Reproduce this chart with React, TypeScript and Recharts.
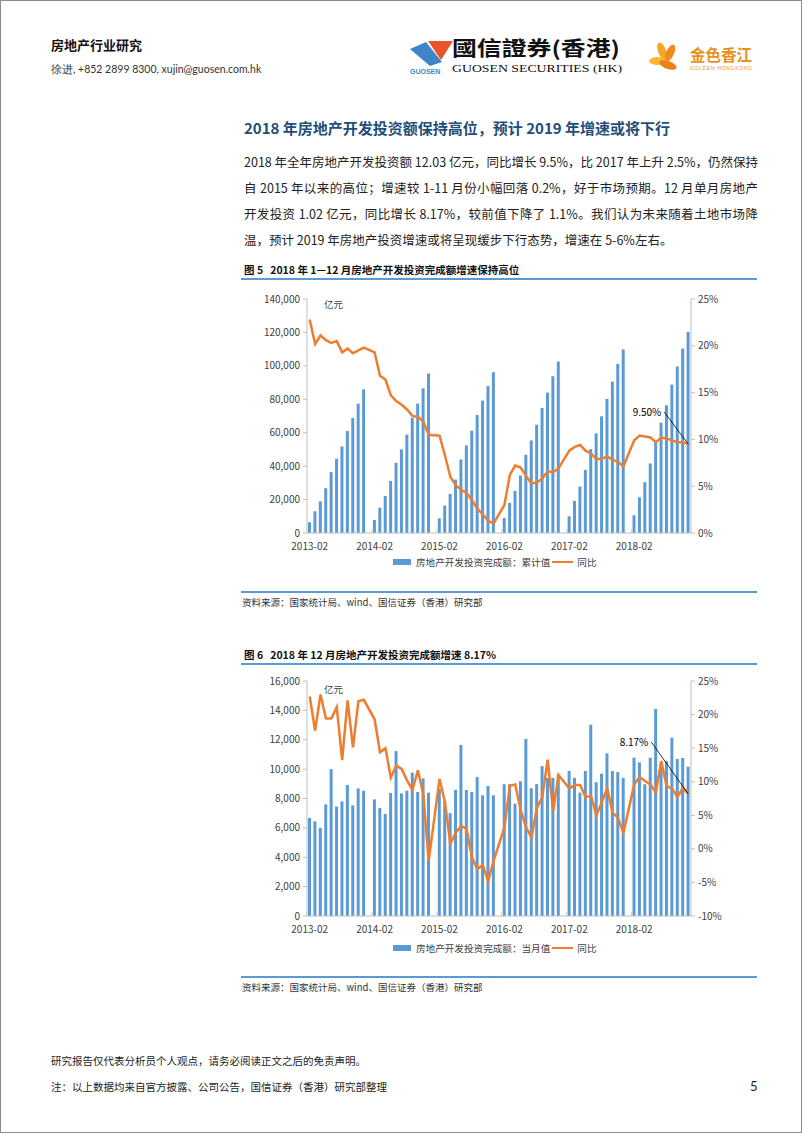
import React from "react";
import { Bar, ComposedChart, LabelList, Line, XAxis, YAxis } from "recharts";

const BLUE = "#5b9bd5";
const ORANGE = "#ed7d31";
const AXIS = "#bfbfbf";
const INK = "#404040";
const RULE = "#5b9bd5";
const FONT = '"Noto Sans CJK SC", "Noto Sans", sans-serif';

const YEARS = [2013, 2014, 2015, 2016, 2017, 2018];
const MONTHS = ["01", "02", "03", "04", "05", "06", "07", "08", "09", "10", "11", "12"];

// 图5: 房地产开发投资完成额 累计值 (亿元), Feb–Dec of each year
const CUM_2013 = [6400, 13000, 19000, 26800, 36400, 44400, 51800, 61000, 68800, 77400, 86000];
const CUM_2014 = [7800, 15200, 22200, 31200, 42000, 50000, 58800, 68800, 77400, 86600, 95400];
const CUM_2015 = [8800, 16400, 23400, 32000, 44000, 52400, 61200, 70600, 79200, 88000, 96200];
const CUM_2016 = [9000, 18000, 25200, 34400, 46800, 55400, 64800, 74800, 84000, 93800, 102600];
const CUM_2017 = [10000, 19200, 27800, 37800, 50200, 59600, 69800, 80200, 90600, 101200, 109800];
const CUM_2018 = [10600, 21400, 30400, 41600, 54400, 66000, 76400, 88800, 99600, 110400, 120300];

// 累计同比 (%)
const CUM_YOY_2013 = [22.8, 20.2, 21.1, 20.6, 20.3, 20.5, 19.3, 19.7, 19.2, 19.5, 19.8];
const CUM_YOY_2014 = [19.3, 16.8, 16.4, 14.7, 14.1, 13.7, 13.2, 12.5, 12.4, 11.9, 10.5];
const CUM_YOY_2015 = [10.4, 8.3, 6.0, 5.1, 4.6, 4.3, 3.5, 2.6, 2.0, 1.3, 1.0];
const CUM_YOY_2016 = [3.0, 6.2, 7.2, 7.0, 6.1, 5.3, 5.4, 5.8, 6.6, 6.5, 6.9];
const CUM_YOY_2017 = [8.8, 9.2, 9.4, 8.8, 8.5, 7.9, 7.9, 8.2, 7.8, 7.6, 7.1];
const CUM_YOY_2018 = [9.9, 10.4, 10.3, 10.2, 9.7, 10.2, 10.1, 9.9, 9.7, 9.7, 9.5];

// 图6: 当月值 (亿元), Feb–Dec
const MON_2013 = [6670, 6450, 6000, 7600, 10000, 7450, 7800, 8920, 7530, 8690, 8530];
const MON_2014 = [7940, 7350, 6950, 8370, 11230, 8350, 8530, 9760, 8440, 9370, 8400];
const MON_2015 = [8650, 7820, 7000, 8590, 11650, 8580, 8440, 9460, 8220, 8850, 8220];
const MON_2016 = [8970, 8970, 7650, 9170, 12050, 8700, 8980, 10200, 9400, 9400, 9640];
const MON_2017 = [9870, 9400, 8400, 9870, 13020, 9110, 9690, 11080, 9870, 9800, 9400];
const MON_2018 = [10780, 10460, 8970, 10780, 14100, 10400, 10550, 12140, 10700, 10760, 10170];

// 当月同比 (%)
const MON_YOY_2013 = [22.7, 17.6, 23.0, 19.4, 19.4, 21.1, 13.2, 22.1, 15.1, 22.0, 22.2];
const MON_YOY_2014 = [19.3, 14.4, 15.0, 10.6, 12.4, 11.9, 10.2, 8.8, 11.7, 8.1, -1.8];
const MON_YOY_2015 = [10.4, 7.0, 0.8, 2.4, 3.4, 3.0, -1.3, -3.0, -2.4, -4.8, -1.8];
const MON_YOY_2016 = [3.2, 9.4, 9.6, 5.8, 3.2, 1.7, 6.1, 7.7, 13.3, 5.6, 11.0];
const MON_YOY_2017 = [9.0, 9.5, 9.5, 7.7, 7.9, 5.0, 6.9, 9.0, 5.4, 4.6, 2.4];
const MON_YOY_2018 = [9.6, 10.7, 10.1, 9.6, 8.4, 13.1, 9.3, 9.0, 7.7, 9.1, 8.17];

const LEFT_TICKS_1 = [0, 20000, 40000, 60000, 80000, 100000, 120000, 140000];
const RIGHT_TICKS_1 = [0, 5, 10, 15, 20, 25];
const LEFT_TICKS_2 = [0, 2000, 4000, 6000, 8000, 10000, 12000, 14000, 16000];
const RIGHT_TICKS_2 = [-10, -5, 0, 5, 10, 15, 20, 25];

type Row = { month: string; bar: number | null; yoy: number | null };

function buildRows(bars: number[][], yoy: number[][]): Row[] {
  const rows: Row[] = [];
  YEARS.forEach((yr, i) => {
    MONTHS.forEach((m, j) => {
      if (yr === 2013 && j === 0) return;
      rows.push({
        month: `${yr}-${m}`,
        bar: j === 0 ? null : bars[i][j - 1],
        yoy: j === 0 ? null : yoy[i][j - 1],
      });
    });
  });
  return rows;
}

const cumRows = buildRows(
  [CUM_2013, CUM_2014, CUM_2015, CUM_2016, CUM_2017, CUM_2018],
  [CUM_YOY_2013, CUM_YOY_2014, CUM_YOY_2015, CUM_YOY_2016, CUM_YOY_2017, CUM_YOY_2018]
);
const monRows = buildRows(
  [MON_2013, MON_2014, MON_2015, MON_2016, MON_2017, MON_2018],
  [MON_YOY_2013, MON_YOY_2014, MON_YOY_2015, MON_YOY_2016, MON_YOY_2017, MON_YOY_2018]
);

const PLOT_W = 384;
const HALF_BAND = PLOT_W / cumRows.length / 2;

const fmtThousands = (v: number) => String(v).replace(/\B(?=(\d{3})+(?!\d))/g, ",");
const fmtPct = (v: number) => `${v}%`;

const tickText = { fontSize: 10, fill: INK, fontFamily: FONT };

function MonthTick({ x, y, payload }: any) {
  return (
    <g>
      <line x1={x - HALF_BAND} x2={x - HALF_BAND} y1={y - 4} y2={y} stroke="#d0d0d0" />
      <text x={x} y={y + 17} textAnchor="middle" {...tickText}>
        {payload.value}
      </text>
    </g>
  );
}

function annotation(text: string, dx: number, dy: number, last: number) {
  return (props: any) => {
    if (props.index !== last) return null;
    const { x, y } = props;
    return (
      <g>
        <line x1={x + dx + 3} y1={y + dy} x2={x} y2={y} stroke="#000" strokeWidth={0.8} />
        <text x={x + dx} y={y + dy} dy={3.5} textAnchor="end" fontSize={10} fill="#000" fontFamily={FONT}>
          {text}
        </text>
      </g>
    );
  };
}

function ComboChart({ data, height, leftTicks, rightTicks, anno }: { data: Row[]; height: number; leftTicks: number[]; rightTicks: number[]; anno: any }) {
  return (
    <ComposedChart width={520} height={height} data={data} margin={{ top: 13, right: 30, bottom: 0, left: 0 }}>
      <XAxis
        dataKey="month"
        interval={11}
        tick={<MonthTick />}
        tickLine={false}
        tickSize={0}
        tickMargin={0}
        height={22}
        axisLine={{ stroke: AXIS }}
      />
      <YAxis
        yAxisId="l"
        width={66}
        domain={[leftTicks[0], leftTicks[leftTicks.length - 1]]}
        ticks={leftTicks}
        interval={0}
        tickFormatter={fmtThousands}
        tick={tickText}
        tickSize={4}
        tickMargin={3}
        tickLine={{ stroke: AXIS }}
        axisLine={{ stroke: AXIS }}
      />
      <YAxis
        yAxisId="r"
        orientation="right"
        width={40}
        domain={[rightTicks[0], rightTicks[rightTicks.length - 1]]}
        ticks={rightTicks}
        interval={0}
        tickFormatter={fmtPct}
        tick={{ ...tickText, textAnchor: "start" }}
        tickSize={4}
        tickMargin={3}
        tickLine={{ stroke: AXIS }}
        axisLine={{ stroke: AXIS }}
      />
      <Bar yAxisId="l" dataKey="bar" fill={BLUE} barSize={3} isAnimationActive={false} />
      <Line
        yAxisId="r"
        dataKey="yoy"
        type="linear"
        stroke={ORANGE}
        strokeWidth={2.5}
        dot={false}
        connectNulls
        isAnimationActive={false}
      >
        <LabelList dataKey="yoy" content={anno} />
      </Line>
    </ComposedChart>
  );
}

function Legend({ top, label }: { top: number; label: string }) {
  return (
    <div style={{ position: "absolute", left: 392, top: top - 7, height: 14, display: "flex", alignItems: "center", fontSize: 9.6, color: INK, fontFamily: FONT, whiteSpace: "nowrap" }}>
      <span style={{ display: "inline-block", width: 18, height: 6, background: BLUE, marginRight: 5 }} />
      <span>{label}</span>
      <span style={{ display: "inline-block", width: 21, height: 2.5, background: ORANGE, margin: "0 4px 0 2px" }} />
      <span>同比</span>
    </div>
  );
}

const abs = (left: number, top: number, extra: React.CSSProperties = {}): React.CSSProperties => ({
  position: "absolute",
  left,
  top,
  whiteSpace: "nowrap",
  ...extra,
});

const PARA = [
  "2018 年全年房地产开发投资额 12.03 亿元，同比增长 9.5%，比 2017 年上升 2.5%，仍然保持",
  "自 2015 年以来的高位；增速较 1-11 月份小幅回落 0.2%，好于市场预期。12 月单月房地产",
  "开发投资 1.02 亿元，同比增长 8.17%，较前值下降了 1.1%。我们认为未来随着土地市场降",
  "温，预计 2019 年房地产投资增速或将呈现缓步下行态势，增速在 5-6%左右。",
];

export default function App() {
  const last = cumRows.length - 1;
  return (
    <div style={{ position: "absolute", left: 0, top: 0, width: 802, height: 1133, background: "#fff", fontFamily: FONT, boxSizing: "border-box", border: "1px solid #8c8c8c", overflow: "hidden" }}>
      {/* header */}
      <div style={abs(50, 34, { fontSize: 13, fontWeight: 700, color: "#111" })}>房地产行业研究</div>
      <div style={abs(50, 62, { fontSize: 10.5, color: "#333", fontFamily: "Lato, sans-serif" })}>徐进, +852 2899 8300, xujin@guosen.com.hk</div>

      <svg style={{ position: "absolute", left: 405, top: 30 }} width={360} height={50}>
        <polygon points="4,18 20,11 36,31 24,35" fill="#3d85c6" />
        <polygon points="22,10 47,10 35,29" fill="#e8552a" />
        <text x={4} y={43} fontSize={7} fill="#3d85c6" fontWeight={700} fontFamily="Liberation Sans">GUOSEN</text>
        <text x={46} y={25} fontSize={20} fontWeight={700} fill="#111" textLength={168} lengthAdjust="spacingAndGlyphs">國信證券(香港)</text>
        <text x={46} y={41} fontSize={11} fill="#111" fontFamily="Liberation Serif" textLength={170} lengthAdjust="spacingAndGlyphs">GUOSEN SECURITIES (HK)</text>
        <g transform="translate(244,10)">
          <ellipse cx={12} cy={10} rx={4} ry={9} fill="#f5a623" transform="rotate(-20 12 10)" />
          <ellipse cx={20} cy={12} rx={4} ry={9} fill="#f08a1c" transform="rotate(25 20 12)" />
          <ellipse cx={8} cy={20} rx={9} ry={4} fill="#f7b733" />
          <ellipse cx={18} cy={24} rx={9} ry={4} fill="#ef7d1a" transform="rotate(20 18 24)" />
          <text x={40} y={20} fontSize={16} fill="#e8901c" fontWeight={700} textLength={62} lengthAdjust="spacingAndGlyphs">金色香江</text>
          <text x={40} y={29} fontSize={5} fill="#e8901c" fontFamily="Liberation Sans" textLength={62}>GOLDEN HONGKONG</text>
        </g>
      </svg>

      {/* section title and text */}
      <div style={abs(243, 116, { fontSize: 15, fontWeight: 700, color: "#1f4e79" })}>
        2018 年房地产开发投资额保持高位，预计 2019 年增速或将下行
      </div>
      {PARA.map((line, i) => (
        <div key={i} style={{ position: "absolute", left: 243, top: 151 + i * 26, width: 514, fontSize: 12.5, color: "#222", whiteSpace: "nowrap", textAlign: "justify", textAlignLast: i < 3 ? "justify" : "left" }}>
          {line}
        </div>
      ))}

      {/* figure 5 */}
      <div style={abs(243, 261, { fontSize: 10.5, fontWeight: 700, color: "#111" })}>图 5&nbsp;&nbsp;&nbsp;2018 年 1—12 月房地产开发投资完成额增速保持高位</div>
      <div style={abs(240, 277, { width: 516, height: 2, background: RULE })} />
      <div style={{ position: "absolute", left: 240, top: 285 }}>
        <ComboChart data={cumRows} height={269} leftTicks={LEFT_TICKS_1} rightTicks={RIGHT_TICKS_1} anno={annotation("9.50%", -27, -32, last)} />
      </div>
      <div style={abs(323, 296, { fontSize: 9.5, color: INK })}>亿元</div>
      <Legend top={561} label="房地产开发投资完成额：累计值" />
      <div style={abs(240, 590, { width: 516, height: 2, background: RULE })} />
      <div style={abs(241, 594, { fontSize: 9.5, color: "#333" })}>资料来源：国家统计局、wind、国信证券（香港）研究部</div>

      {/* figure 6 */}
      <div style={abs(243, 646, { fontSize: 10.5, fontWeight: 700, color: "#111" })}>图 6&nbsp;&nbsp;&nbsp;2018 年 12 月房地产开发投资完成额增速 8.17%</div>
      <div style={abs(240, 662, { width: 516, height: 2, background: RULE })} />
      <div style={{ position: "absolute", left: 240, top: 667 }}>
        <ComboChart data={monRows} height={270} leftTicks={LEFT_TICKS_2} rightTicks={RIGHT_TICKS_2} anno={annotation("8.17%", -40, -52, last)} />
      </div>
      <div style={abs(323, 681, { fontSize: 9.5, color: INK })}>亿元</div>
      <Legend top={947} label="房地产开发投资完成额：当月值" />
      <div style={abs(240, 975, { width: 516, height: 2, background: RULE })} />
      <div style={abs(241, 979, { fontSize: 9.5, color: "#333" })}>资料来源：国家统计局、wind、国信证券（香港）研究部</div>

      {/* footer */}
      <div style={abs(50, 1052, { fontSize: 10.5, color: "#222" })}>研究报告仅代表分析员个人观点，请务必阅读正文之后的免责声明。</div>
      <div style={abs(50, 1078, { fontSize: 10.5, color: "#222" })}>注：以上数据均来自官方披露、公司公告，国信证券（香港）研究部整理</div>
      <div style={abs(749, 1077, { fontSize: 13, color: "#222", fontFamily: "Lato, sans-serif" })}>5</div>
    </div>
  );
}
